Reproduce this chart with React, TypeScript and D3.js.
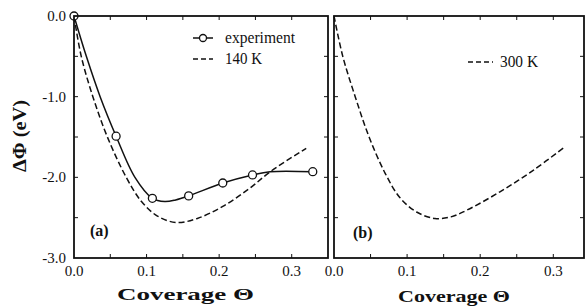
import React from 'react';
import * as d3 from 'd3';

// experiment markers (coverage, delta phi in eV)
const expMarkX = [0, 0.058, 0.108, 0.158, 0.205, 0.246, 0.329];
const expMarkY = [0, -1.49, -2.26, -2.23, -2.07, -1.97, -1.93];

const expLineX = [0, 0.017, 0.036, 0.058, 0.084, 0.108, 0.125, 0.14, 0.158, 0.205, 0.246, 0.27, 0.329];
const expLineY = [0, -0.5, -1.0, -1.49, -2.0, -2.26, -2.3, -2.28, -2.23, -2.07, -1.97, -1.93, -1.93];

// 140 K simulation (panel a)
const k140X = [0, 0.01, 0.026, 0.046, 0.072, 0.093, 0.115, 0.141, 0.17, 0.205, 0.24, 0.272, 0.32];
const k140Y = [0, -0.5, -1.0, -1.5, -2.0, -2.3, -2.48, -2.56, -2.51, -2.36, -2.15, -1.92, -1.64];

// 300 K simulation (panel b)
const k300X = [0, 0.012, 0.029, 0.048, 0.07, 0.09, 0.113, 0.138, 0.16, 0.181, 0.227, 0.273, 0.316];
const k300Y = [0, -0.5, -1.0, -1.5, -1.95, -2.25, -2.43, -2.51, -2.49, -2.41, -2.18, -1.91, -1.62];

const xTickLabels = ['0.0', '0.1', '0.2', '0.3'];
const yTickLabels = ['0.0', '-1.0', '-2.0', '-3.0'];

const serif = { fontFamily: "'Liberation Serif', 'Times New Roman', 'DejaVu Serif', serif" };

const zip = (xs: number[], ys: number[]) => xs.map((x, i) => [x, ys[i]] as [number, number]);

const y = d3.scaleLinear().domain([-3, 0]).range([258, 16]);

const Panel = ({ x0, x1, xMax, label, children }: any) => {
  const x = d3.scaleLinear().domain([0, xMax]).range([x0, x1]);
  const xt = d3.range(0.05, xMax - 0.001, 0.05);
  const yt = d3.range(-2.5, 0, 0.5);
  return (
    <g>
      {xt.map((t) => (
        <g key={'x' + t}>
          <line x1={x(t)} x2={x(t)} y1={258} y2={254} stroke="#111" strokeWidth={1} />
          <line x1={x(t)} x2={x(t)} y1={16} y2={20} stroke="#111" strokeWidth={1} />
        </g>
      ))}
      {yt.map((t) => (
        <g key={'y' + t}>
          <line x1={x0} x2={x0 + 4} y1={y(t)} y2={y(t)} stroke="#111" strokeWidth={1} />
          <line x1={x1} x2={x1 - 4} y1={y(t)} y2={y(t)} stroke="#111" strokeWidth={1} />
        </g>
      ))}
      {xTickLabels.map((s) => (
        <text key={s} x={x(+s)} y={276} textAnchor="middle" fontSize={15} style={serif} fill="#111">
          {s}
        </text>
      ))}
      {children(x)}
      <rect x={x0} y={16} width={x1 - x0} height={242} fill="none" stroke="#111" strokeWidth={1.8} />
      <text x={label.x} y={label.y} fontSize={16} fontWeight="bold" style={serif} fill="#111">
        {label.text}
      </text>
    </g>
  );
};

export default function App() {
  const curve = (x: any) =>
    d3
      .line<[number, number]>()
      .x((d) => x(d[0]))
      .y((d) => y(d[1]))
      .curve(d3.curveCatmullRom.alpha(0.5));

  return (
    <svg width={587} height={306} style={{ position: 'absolute', left: 0, top: 0, background: '#fff' }}>
      <Panel x0={74} x1={328} xMax={0.35} label={{ x: 90, y: 236, text: '(a)' }}>
        {(x: any) => (
          <g>
            <path d={curve(x)(zip(k140X, k140Y)) || ''} fill="none" stroke="#111" strokeWidth={1.5} strokeDasharray="6,3" />
            <path d={curve(x)(zip(expLineX, expLineY)) || ''} fill="none" stroke="#111" strokeWidth={1.5} />
            {zip(expMarkX, expMarkY).map((d, i) => (
              <circle key={i} cx={x(d[0])} cy={y(d[1])} r={4} fill="#fff" stroke="#111" strokeWidth={1.3} />
            ))}
            {/* legend */}
            <line x1={193} x2={213} y1={38} y2={38} stroke="#111" strokeWidth={1.5} />
            <circle cx={203} cy={38} r={3.5} fill="#fff" stroke="#111" strokeWidth={1.3} />
            <text x={225} y={43} fontSize={16} style={serif} fill="#111" textLength={70} lengthAdjust="spacingAndGlyphs">
              experiment
            </text>
            <line x1={193} x2={213} y1={59} y2={59} stroke="#111" strokeWidth={1.5} strokeDasharray="5,3" />
            <text x={225} y={64} fontSize={16} style={serif} fill="#111" textLength={37} lengthAdjust="spacingAndGlyphs">
              140 K
            </text>
          </g>
        )}
      </Panel>
      <Panel x0={334} x1={584} xMax={0.342} label={{ x: 353, y: 238, text: '(b)' }}>
        {(x: any) => (
          <g>
            <path d={curve(x)(zip(k300X, k300Y)) || ''} fill="none" stroke="#111" strokeWidth={1.5} strokeDasharray="6,3" />
            <line x1={468} x2={493} y1={62} y2={62} stroke="#111" strokeWidth={1.5} strokeDasharray="5,3" />
            <text x={500} y={67} fontSize={16} style={serif} fill="#111" textLength={38} lengthAdjust="spacingAndGlyphs">
              300 K
            </text>
          </g>
        )}
      </Panel>
      {yTickLabels.map((s) => (
        <text key={s} x={66} y={y(+s) + 5} textAnchor="end" fontSize={15} style={serif} fill="#111">
          {s}
        </text>
      ))}
      <text
        transform="translate(26,136) rotate(-90)"
        textAnchor="middle"
        fontSize={18}
        fontWeight="bold"
        style={serif}
        fill="#111"
        textLength={72}
        lengthAdjust="spacingAndGlyphs"
      >
        ΔΦ (eV)
      </text>
      <text x={117} y={300} fontSize={17} fontWeight="bold" style={serif} fill="#111" textLength={137} lengthAdjust="spacingAndGlyphs">
        Coverage Θ
      </text>
      <text x={398} y={302} fontSize={17} fontWeight="bold" style={serif} fill="#111" textLength={112} lengthAdjust="spacingAndGlyphs">
        Coverage Θ
      </text>
    </svg>
  );
}
